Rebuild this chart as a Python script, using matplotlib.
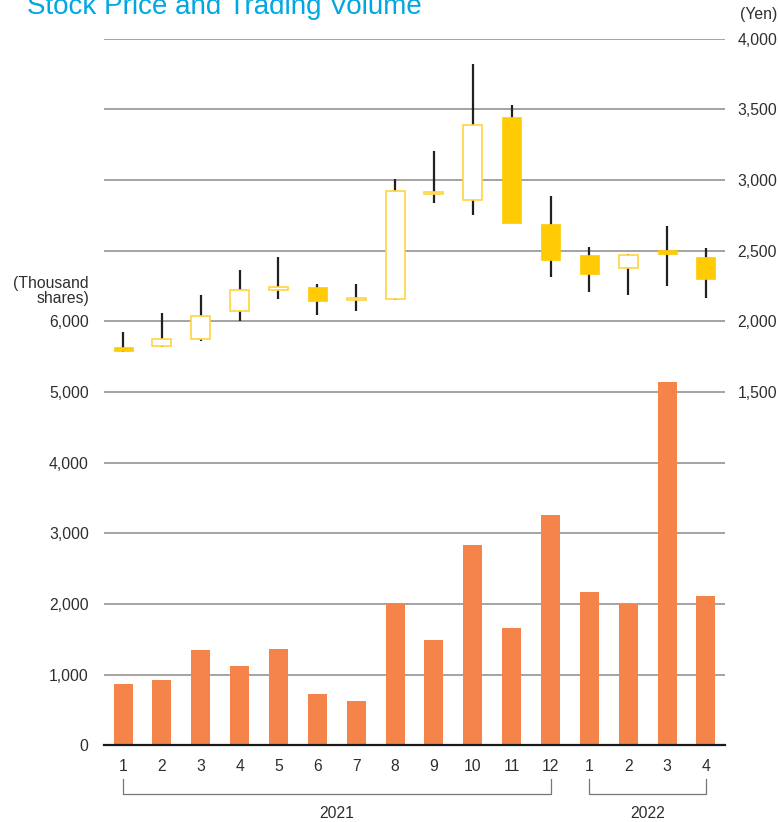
import matplotlib
matplotlib.use("Agg")
import matplotlib.pyplot as plt
import matplotlib.transforms as mtransforms

plt.rcParams['font.family'] = ['Liberation Sans', 'DejaVu Sans']

# monthly data, Jan 2021 - Apr 2022
months = ['1', '2', '3', '4', '5', '6', '7', '8', '9', '10', '11', '12', '1', '2', '3', '4']
volume = [870, 925, 1350, 1120, 1365, 725, 630, 2010, 1490, 2830, 1660, 3265, 2165, 2005, 5140, 2120]
price_open = [1818, 1823, 1878, 2071, 2219, 2245, 2150, 2160, 2898, 2860, 3447, 2690, 2471, 2375, 2505, 2457]
price_close = [1793, 1873, 2035, 2222, 2243, 2141, 2165, 2924, 2914, 3390, 2697, 2436, 2332, 2469, 2476, 2297]
price_high = [1922, 2061, 2189, 2365, 2457, 2266, 2266, 3008, 3207, 3821, 3532, 2884, 2528, 2478, 2678, 2521]
price_low = [1783, 1816, 1864, 2005, 2160, 2047, 2076, 2151, 2835, 2756, 2693, 2311, 2205, 2184, 2247, 2163]
years = ['2021', '2022']
year_spans = [(0, 11), (12, 15)]

vol_ticks = [0, 1000, 2000, 3000, 4000, 5000, 6000]
yen_ticks = [1500, 2000, 2500, 3000, 3500, 4000]

text_col = '#2e2e2e'
grid_col = '#939393'
bar_col = '#F4844A'
gold = '#FFCB05'
gold_edge = '#FFD33F'
wick_col = '#231F20'

W, H = 778, 822
fig = plt.figure(figsize=(W / 100, H / 100), dpi=100)
ax = fig.add_axes([104 / W, 1 - 745.4 / H, (725 - 104) / W, (745.4 - 38.7) / H])
ax.set_xlim(-0.49, 15.49)
ax.set_ylim(0, 10000)

x = list(range(len(months)))

# horizontal rules shared by both scales
for v in range(1000, 10001, 1000):
    ax.axhline(v, color=grid_col, lw=1.2, zorder=0)

ax.bar(x, volume, width=0.49, color=bar_col, zorder=2)

for s in ['top', 'right', 'left']:
    ax.spines[s].set_visible(False)
ax.spines['bottom'].set_color('#1a1a1a')
ax.spines['bottom'].set_linewidth(1.6)

ax.set_yticks(vol_ticks)
ax.set_yticklabels([f'{v:,}' for v in vol_ticks])
ax.tick_params(axis='y', length=0, pad=11, labelsize=11.3, labelcolor=text_col)
ax.set_xticks(x)
ax.set_xticklabels(months)
ax.tick_params(axis='x', length=0, pad=10, labelsize=11.3, labelcolor=text_col)

# price scale on the right
ax2 = ax.twinx()
ax2.set_ylim(-1000, 4000)
for s in ['top', 'right', 'left', 'bottom']:
    ax2.spines[s].set_visible(False)
ax2.set_yticks(yen_ticks)
ax2.set_yticklabels([f'{v:,}' for v in yen_ticks])
ax2.tick_params(axis='y', length=0, pad=9, labelsize=11.3, labelcolor=text_col)

ax2.vlines(x, price_low, price_high, color=wick_col, lw=1.6, zorder=2)
for i in x:
    o, c = price_open[i], price_close[i]
    if c >= o:
        ax2.bar(i, c - o, bottom=o, width=0.49, facecolor='white',
                edgecolor=gold_edge, lw=1.2, zorder=3)
    else:
        ax2.bar(i, o - c, bottom=c, width=0.49, facecolor=gold,
                edgecolor=gold, lw=0.5, zorder=3)

# year brackets under the month labels
trans = mtransforms.blended_transform_factory(ax.transData, fig.transFigure)
y_top = 1 - 779 / H
y_bot = 1 - 794 / H
for label, (a, b) in zip(years, year_spans):
    ax.plot([a, a, b, b], [y_top, y_bot, y_bot, y_top], transform=trans,
            color='#777777', lw=0.9, clip_on=False)
    ax.text((a + b) / 2, 1 - 813 / H, label, transform=trans, ha='center',
            va='center', fontsize=11.3, color=text_col)

fig.text(89 / W, 1 - 291 / H, '(Thousand\nshares)', ha='right', va='center',
         fontsize=11.3, color=text_col, linespacing=1.0)
fig.text(777 / W, 1 - 15 / H, '(Yen)', ha='right', va='center',
         fontsize=11.3, color=text_col)

fig.text(27 / W, 1 - 13.5 / H, 'Stock Price and Trading Volume', ha='left',
         va='baseline', fontsize=20, color='#00A7E3')

fig.savefig('out.png', dpi=100)
